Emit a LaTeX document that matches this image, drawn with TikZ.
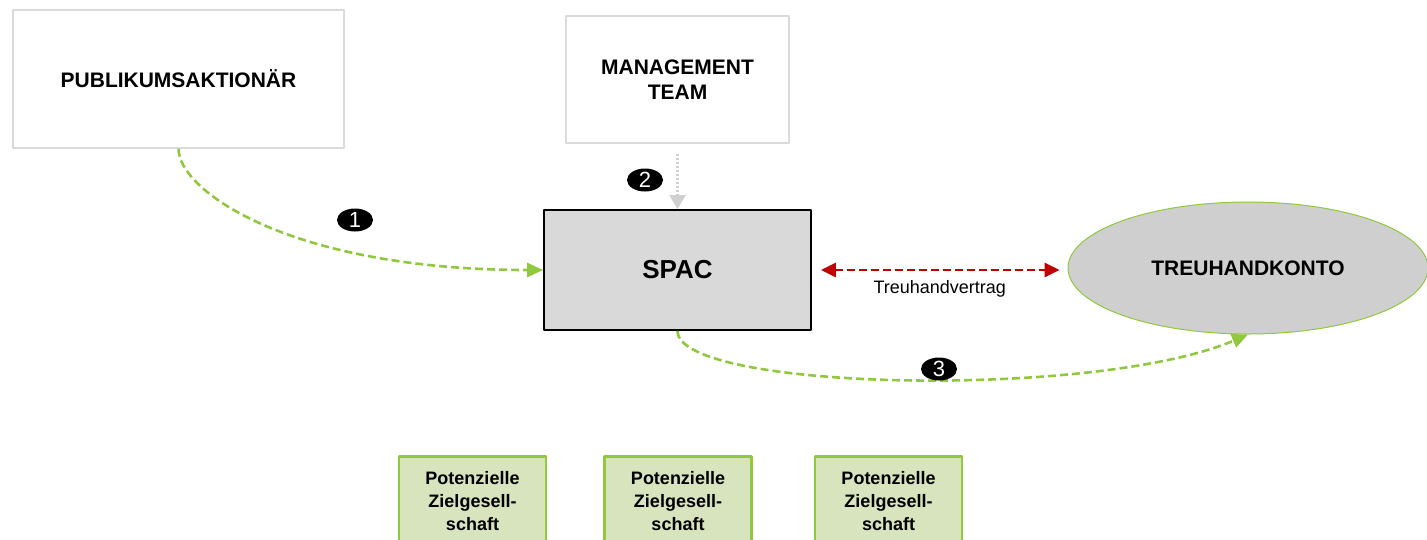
\documentclass[tikz,border=0pt]{standalone}
\usepackage{fontspec}
\setmainfont{Liberation Sans}
\usetikzlibrary{arrows.meta,shapes.geometric}
\definecolor{lgreen}{HTML}{92C83E}
\definecolor{zfill}{HTML}{D7E4BD}
\definecolor{kgray}{HTML}{CFCFCF}
\definecolor{sgray}{HTML}{D9D9D9}
\definecolor{bgray}{HTML}{DADADA}
\definecolor{dred}{HTML}{C00000}
\definecolor{dgray}{HTML}{D0D0D0}
\tikzset{
	whitebox/.style={draw=bgray,line width=1.5pt,fill=white,align=center,inner sep=0pt,font=\fontsize{21}{25}\selectfont\bfseries},
	spacbox/.style={draw=black,line width=1.8pt,fill=sgray,inner sep=0pt,font=\fontsize{26}{30}\selectfont\bfseries},
	kontobox/.style={ellipse,draw=lgreen,line width=1pt,fill=kgray,inner sep=0pt,font=\fontsize{21}{25}\selectfont\bfseries},
	zielbox/.style={draw=lgreen,line width=2.5pt,fill=zfill,align=center,inner sep=0pt,minimum width=147pt,minimum height=90pt,font=\fontsize{18}{23}\selectfont\bfseries},
	badge/.style={ellipse,fill=black,text=white,inner sep=0pt,minimum width=36pt,minimum height=23pt,font=\fontsize{22}{22}\selectfont},
	greenarrow/.style={draw=lgreen,line width=2.6pt,dash pattern=on 8pt off 4pt,-{Triangle[length=16pt,width=14pt]}},
	redarrow/.style={draw=dred,line width=2.6pt,dash pattern=on 8pt off 4pt,{Triangle[length=15pt,width=14pt]}-{Triangle[length=15pt,width=14pt]}},
	grayarrow/.style={draw=dgray,line width=2.4pt,dash pattern=on 2pt off 2pt,-{Triangle[length=14pt,width=16pt]}}
}
\begin{document}
\begin{tikzpicture}[x=1pt,y=1pt,line join=round]
	\useasboundingbox (0,0) rectangle (1427,-539);
	\path
	(178.5,-79) coordinate(P)
	(677.5,-79.5) coordinate(M)
	(677.5,-270) coordinate(S)
	(1248,-268) coordinate(K)
	;
	\node[whitebox,minimum width=331pt,minimum height=138pt] (pub) at (P) {PUBLIKUMSAKTIONÄR};
	\node[whitebox,minimum width=223pt,minimum height=127pt] (mgmt) at (M) {MANAGEMENT\\TEAM};
	\node[spacbox,minimum width=267pt,minimum height=120pt] (spac) at (S) {SPAC};
	\node[kontobox,minimum width=360pt,minimum height=132pt] (konto) at (K) {TREUHANDKONTO};
	\foreach \n/\x in {zg1/472.5,zg2/678,zg3/888.5}
	\node[zielbox,anchor=north] (\n) at (\x,-455) {Potenzielle\\Zielgesell-\\schaft};
	\draw[greenarrow] (pub.south) .. controls +(0,-42) and +(-253,0) .. (spac.west);
	\draw[grayarrow,shorten <=10pt] (mgmt.south) -- (spac.north);
	\draw[greenarrow] (spac.south) .. controls +(0,-60) and +(-152,-65) .. (konto.south);
	\draw[redarrow,shorten <=9pt,shorten >=8pt] (spac.east) -- (spac.east -| konto.west)
	node[midway,below=6pt,font=\fontsize{18}{20}\selectfont] (vertrag) {Treuhandvertrag};
	\foreach \b/\x/\y/\t in {b1/355/-220/1,b2/645/-180/2,b3/939/-369/3}
	\node[badge] (\b) at (\x,\y) {\t};
\end{tikzpicture}
\end{document}
